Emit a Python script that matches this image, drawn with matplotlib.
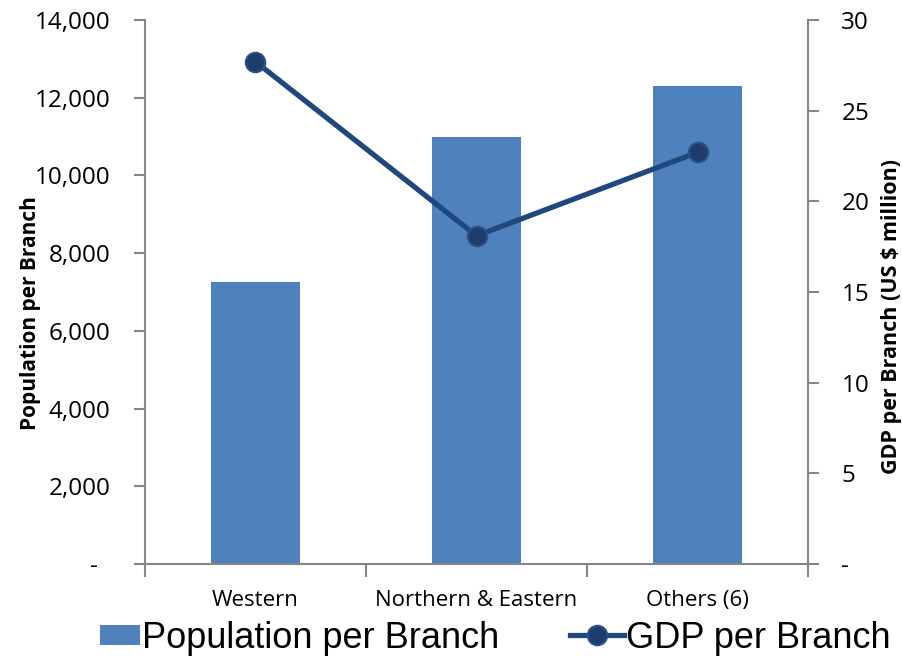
import matplotlib.pyplot as plt
from matplotlib.ticker import FuncFormatter
from matplotlib.patches import Rectangle
from matplotlib.legend_handler import HandlerPatch

regions = ["Western", "Northern & Eastern", "Others (6)"]
population = [7270, 10980, 12300]
gdp = [27.7, 18.1, 22.7]

plt.rcParams['font.family'] = ['Open Sans', 'DejaVu Sans']
grey = "#868686"

fig = plt.figure(figsize=(9.03, 6.6), dpi=100)
ax = fig.add_axes([145/903, 96/660, 663/903, 544/660])
ax2 = ax.twinx()

x = list(range(len(regions)))
bars = ax.bar(x, population, width=0.4, color="#4F81BD", zorder=2)
line, = ax2.plot(x, gdp, color="#1F497D", lw=3.8, marker="o", ms=14,
                 mfc="#1F3D6B", mec="#2A5286", mew=1.5)

ax.set_xlim(-0.5, 2.5)
ax.set_ylim(0, 14000)
ax2.set_ylim(0, 30)
ax.set_yticks(range(0, 14001, 2000))
ax2.set_yticks(range(0, 31, 5))

def fmt_left(v, pos):
    return "-  " if v == 0 else f"{int(v):,}"

def fmt_right(v, pos):
    return "-" if v == 0 else f"{int(v)}"

ax.yaxis.set_major_formatter(FuncFormatter(fmt_left))
ax2.yaxis.set_major_formatter(FuncFormatter(fmt_right))

# category boundaries get the tick marks, names sit under the bars
ax.set_xticks([-0.5, 0.5, 1.5, 2.5])
ax.set_xticklabels([])
ax.set_xticks(x, minor=True)
ax.set_xticklabels(regions, minor=True, fontsize=16)
ax.tick_params(axis="x", which="minor", length=0, pad=19)
ax.tick_params(axis="x", which="major", length=9, direction="out", color=grey, width=1.5)

for a in (ax, ax2):
    a.spines["top"].set_visible(False)
    for s in ("left", "right", "bottom"):
        a.spines[s].set_color(grey)
        a.spines[s].set_linewidth(1.5)
ax.spines["right"].set_visible(False)
ax2.spines["left"].set_visible(False)
ax2.spines["bottom"].set_visible(False)

ax.tick_params(axis="y", length=8, color=grey, width=1.5, labelsize=17.5, pad=17)
ax2.tick_params(axis="y", length=8, color=grey, width=1.5, labelsize=17.5, pad=16)

ax.set_ylabel("Population per Branch", fontsize=15, fontweight="bold")
ax.yaxis.set_label_coords(-0.157, 0.461)
ax2.set_ylabel("GDP per Branch (US $ million)", fontsize=15.5, fontweight="bold")
ax2.yaxis.set_label_coords(1.110, 0.455)


# narrower, shorter key for the bar series
def bar_key(legend, orig_handle, xdescent, ydescent, width, height, fontsize):
    h = height * 0.8
    return Rectangle((width * 0.26 - xdescent, -ydescent + (height - h) / 2),
                     width * 0.74, h)


bar_handle = bars.patches[0]
fig.legend([bar_handle, line], ["Population per Branch", "GDP per Branch"],
           loc="center left", bbox_to_anchor=(86/903, 1 - 638/660), ncol=2,
           frameon=False, prop={"family": "Liberation Sans", "size": 26},
           handlelength=1.5, handletextpad=0.05, columnspacing=1.95,
           borderpad=0, borderaxespad=0,
           handler_map={bar_handle: HandlerPatch(patch_func=bar_key)})

fig.savefig("out.png", dpi=100)
